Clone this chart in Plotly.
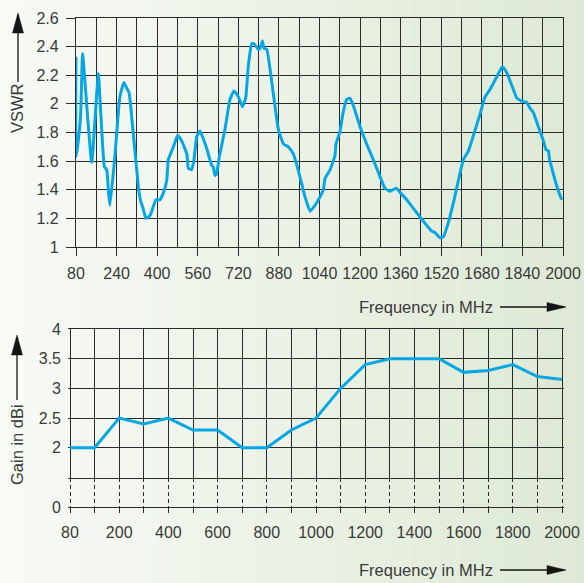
import plotly.graph_objects as go

# ---------------- data ----------------
vswr_freq = [80, 80, 86, 98, 106, 124, 142, 168, 177, 192, 201, 208, 214, 234, 253, 269, 280, 289,
             306, 326, 335, 343, 356, 372, 395, 411, 427, 438, 444, 464, 481, 497, 517, 523, 536,
             545, 556, 569, 595, 615, 621, 628, 634, 645, 667, 687, 703, 720, 736, 749, 759, 773,
             782, 799, 806, 815, 821, 832, 858, 878, 898, 917, 937, 963, 983, 1003, 1022, 1042,
             1055, 1062, 1082, 1101, 1105, 1121, 1132, 1147, 1160, 1173, 1200, 1226, 1252, 1279,
             1298, 1318, 1342, 1358, 1384, 1410, 1436, 1463, 1483, 1496, 1515, 1528, 1548, 1568,
             1587, 1607, 1627, 1647, 1673, 1693, 1712, 1739, 1761, 1778, 1798, 1818, 1837, 1857,
             1870, 1883, 1903, 1923, 1933, 1943, 1946, 1962, 1978, 1995]
vswr_val = [2.33, 1.63, 1.70, 1.91, 2.35, 1.95, 1.59, 2.21, 1.96, 1.56, 1.54, 1.39, 1.29, 1.65, 2.05,
            2.15, 2.11, 2.08, 1.79, 1.42, 1.32, 1.28, 1.20, 1.22, 1.33, 1.33, 1.39, 1.47, 1.61, 1.70,
            1.78, 1.74, 1.65, 1.55, 1.54, 1.61, 1.77, 1.81, 1.69, 1.57, 1.56, 1.50, 1.51, 1.63, 1.82,
            2.03, 2.09, 2.05, 1.98, 2.04, 2.26, 2.42, 2.42, 2.38, 2.39, 2.44, 2.39, 2.38, 2.07, 1.82,
            1.72, 1.70, 1.65, 1.49, 1.35, 1.25, 1.29, 1.35, 1.40, 1.48, 1.54, 1.64, 1.72, 1.81, 1.93,
            2.03, 2.04, 1.99, 1.84, 1.72, 1.61, 1.49, 1.41, 1.39, 1.41, 1.38, 1.33, 1.27, 1.21, 1.15,
            1.11, 1.10, 1.065, 1.07, 1.17, 1.31, 1.46, 1.61, 1.67, 1.78, 1.93, 2.05, 2.10, 2.19, 2.26,
            2.22, 2.13, 2.04, 2.02, 2.01, 1.97, 1.94, 1.84, 1.74, 1.68, 1.67, 1.62, 1.51, 1.41, 1.33]
vswr_xticks = [80, 240, 400, 560, 720, 880, 1040, 1200, 1360, 1520, 1680, 1840, 2000]
vswr_yticks = [1, 1.2, 1.4, 1.6, 1.8, 2, 2.2, 2.4, 2.6]
vswr_ylabels = ["1", "1.2", "1.4", "1.6", "1.8", "2", "2.2", "2.4", "2.6"]

gain_freq = [80, 140, 200, 300, 400, 500, 600, 700, 800, 900, 1000, 1100, 1200, 1300, 1400,
             1500, 1600, 1700, 1800, 1900, 2000]
gain_dbi = [2.0, 2.0, 2.5, 2.4, 2.5, 2.3, 2.3, 2.0, 2.0, 2.3, 2.5, 3.0, 3.4, 3.5, 3.5,
            3.5, 3.27, 3.3, 3.4, 3.2, 3.15]
gain_yticks = [2, 2.5, 3, 3.5, 4]
gain_ylabels = ["2", "2.5", "3", "3.5", "4"]

# ---------------- styling helpers ----------------
W, H = 584, 583


def fx(p):
    return p / W


def fy(p):
    return 1 - p / H


LINE = "#05a6e4"
GRID = "#2a2a2a"
TXT = "#3a3a3a"
FONT = "Liberation Sans, Arial, sans-serif"
TICKFONT = dict(family=FONT, size=16, color=TXT)
GW = 1.3

fig = go.Figure()
fig.add_trace(go.Scatter(x=vswr_freq, y=vswr_val, mode="lines",
                         line=dict(color=LINE, width=3, shape="spline", smoothing=0.4),
                         xaxis="x", yaxis="y", hoverinfo="skip", showlegend=False))
gain_pos = list(range(len(gain_freq)))
fig.add_trace(go.Scatter(x=gain_pos, y=gain_dbi, mode="lines",
                         line=dict(color=LINE, width=3),
                         xaxis="x2", yaxis="y2", hoverinfo="skip", showlegend=False))
fig.add_trace(go.Scatter(x=[gain_pos[0]], y=[0], mode="markers", marker=dict(opacity=0),
                         xaxis="x3", yaxis="y3", hoverinfo="skip", showlegend=False))

pad = 2 / 24.6  # ~2px in index units
gtick = gain_pos[::2]
glabels = [str(f) for f in gain_freq[::2]]

layout = dict(
    width=W, height=H,
    margin=dict(l=0, r=0, t=0, b=0),
    paper_bgcolor="#f7f9f5",
    plot_bgcolor="rgba(0,0,0,0)",
    showlegend=False,
    font=dict(family=FONT, color=TXT),
    xaxis=dict(domain=[fx(76), fx(563)], anchor="y", range=[80, 2000],
               tickmode="array", tickvals=vswr_xticks, tickangle=0,
               ticks="outside", ticklen=8, tickcolor=GRID, tickwidth=GW,
               showgrid=True, gridcolor=GRID, gridwidth=GW,
               minor=dict(tickmode="linear", tick0=80, dtick=80, showgrid=True,
                          gridcolor=GRID, gridwidth=GW, ticks=""),
               showline=True, mirror=True, linecolor=GRID, linewidth=GW,
               zeroline=False, tickfont=TICKFONT, ticklabelstandoff=4, automargin=False),
    yaxis=dict(domain=[fy(247), fy(18)], anchor="x", range=[1, 2.6],
               tickmode="array", tickvals=vswr_yticks, ticktext=vswr_ylabels,
               ticks="outside", ticklen=9, tickcolor=GRID, tickwidth=GW,
               showgrid=True, gridcolor=GRID, gridwidth=GW,
               showline=True, mirror=True, linecolor=GRID, linewidth=GW,
               zeroline=False, tickfont=TICKFONT, ticklabelstandoff=4, automargin=False),
    xaxis2=dict(domain=[fx(70) - 2 / W, fx(562) + 2 / W], anchor="y2",
                range=[gain_pos[0] - pad, gain_pos[-1] + pad],
                tickmode="array", tickvals=gtick, showticklabels=False, ticks="",
                showgrid=True, gridcolor=GRID, gridwidth=GW,
                minor=dict(tickmode="linear", tick0=0, dtick=1, showgrid=True,
                           gridcolor=GRID, gridwidth=GW, ticks=""),
                showline=True, mirror=True, linecolor=GRID, linewidth=GW,
                zeroline=False, automargin=False),
    yaxis2=dict(domain=[fy(477.5), fy(329)], anchor="x2", range=[1.5, 4],
                tickmode="array", tickvals=gain_yticks, ticktext=gain_ylabels,
                ticks="", showgrid=True, gridcolor=GRID, gridwidth=GW,
                showline=False, zeroline=False, tickfont=TICKFONT,
                ticklabelstandoff=6, automargin=False),
    xaxis3=dict(domain=[fx(70) - 2 / W, fx(562) + 2 / W], anchor="y3", matches="x2",
                range=[gain_pos[0] - pad, gain_pos[-1] + pad],
                tickmode="array", tickvals=gtick, ticktext=glabels, tickangle=0,
                ticks="outside", ticklen=5, tickcolor=GRID, tickwidth=GW,
                showgrid=True, gridcolor=GRID, gridwidth=GW, griddash="4px,3px",
                minor=dict(tickmode="linear", tick0=0, dtick=1, showgrid=True,
                           gridcolor=GRID, gridwidth=GW, griddash="4px,3px",
                           ticks="outside", ticklen=5, tickcolor=GRID, tickwidth=GW),
                showline=True, mirror=False, linecolor=GRID, linewidth=GW,
                zeroline=False, tickfont=TICKFONT, ticklabelstandoff=6, automargin=False),
    yaxis3=dict(domain=[fy(507), fy(477.5)], anchor="x3", range=[0, 1],
                tickmode="array", tickvals=[0], ticktext=["0"], ticks="",
                showgrid=False, showline=False, zeroline=False, tickfont=TICKFONT,
                ticklabelstandoff=6, automargin=False),
)

# background gradient (left nearly white -> right light green)
c0 = (248, 250, 246)
c1 = (222, 233, 213)
n = 48
shapes = []
for i in range(n):
    t = i / (n - 1)
    col = tuple(round(c0[k] + (c1[k] - c0[k]) * t) for k in range(3))
    shapes.append(dict(type="rect", xref="paper", yref="paper", x0=i / n, x1=(i + 1) / n + 0.002,
                       y0=0, y1=1, fillcolor="rgb(%d,%d,%d)" % col, line=dict(width=0),
                       layer="below"))

ARROW = "#151515"


def hline_arrow(x0, x1, y):
    shapes.append(dict(type="line", xref="paper", yref="paper", x0=fx(x0), x1=fx(x1 - 2),
                       y0=fy(y), y1=fy(y), line=dict(color=ARROW, width=1.3)))
    p = "M %f %f L %f %f L %f %f Z" % (fx(x1 - 19), fy(y - 4.5), fx(x1), fy(y), fx(x1 - 19), fy(y + 4.5))
    shapes.append(dict(type="path", xref="paper", yref="paper", path=p, fillcolor=ARROW,
                       line=dict(color=ARROW, width=0.5)))


def vline_arrow(x, y_bottom, y_tip):
    shapes.append(dict(type="line", xref="paper", yref="paper", x0=fx(x), x1=fx(x),
                       y0=fy(y_bottom), y1=fy(y_tip + 2), line=dict(color=ARROW, width=1.3)))
    p = "M %f %f L %f %f L %f %f Z" % (fx(x - 5.5), fy(y_tip + 20), fx(x), fy(y_tip), fx(x + 5.5), fy(y_tip + 20))
    shapes.append(dict(type="path", xref="paper", yref="paper", path=p, fillcolor=ARROW,
                       line=dict(color=ARROW, width=0.5)))


hline_arrow(500, 566, 307)
hline_arrow(500, 566, 570)
vline_arrow(18, 82, 13)
vline_arrow(17, 400, 335)

layout["shapes"] = shapes

TITLEFONT = dict(family=FONT, size=16.5, color=TXT)
layout["annotations"] = [
    dict(text="VSWR", xref="paper", yref="paper", x=fx(17.5), y=fy(108.5), textangle=-90,
         showarrow=False, xanchor="center", yanchor="middle", font=TITLEFONT),
    dict(text="Gain in dBi", xref="paper", yref="paper", x=fx(17), y=fy(445), textangle=-90,
         showarrow=False, xanchor="center", yanchor="middle", font=TITLEFONT),
    dict(text="Frequency in MHz", xref="paper", yref="paper", x=fx(495), y=fy(307),
         showarrow=False, xanchor="right", yanchor="middle", font=TITLEFONT),
    dict(text="Frequency in MHz", xref="paper", yref="paper", x=fx(495), y=fy(570),
         showarrow=False, xanchor="right", yanchor="middle", font=TITLEFONT),
]

fig.update_layout(**layout)
fig.write_html("out.html", config={"displayModeBar": False},
               post_script="document.body.style.margin='0';document.body.style.overflow='hidden';")
